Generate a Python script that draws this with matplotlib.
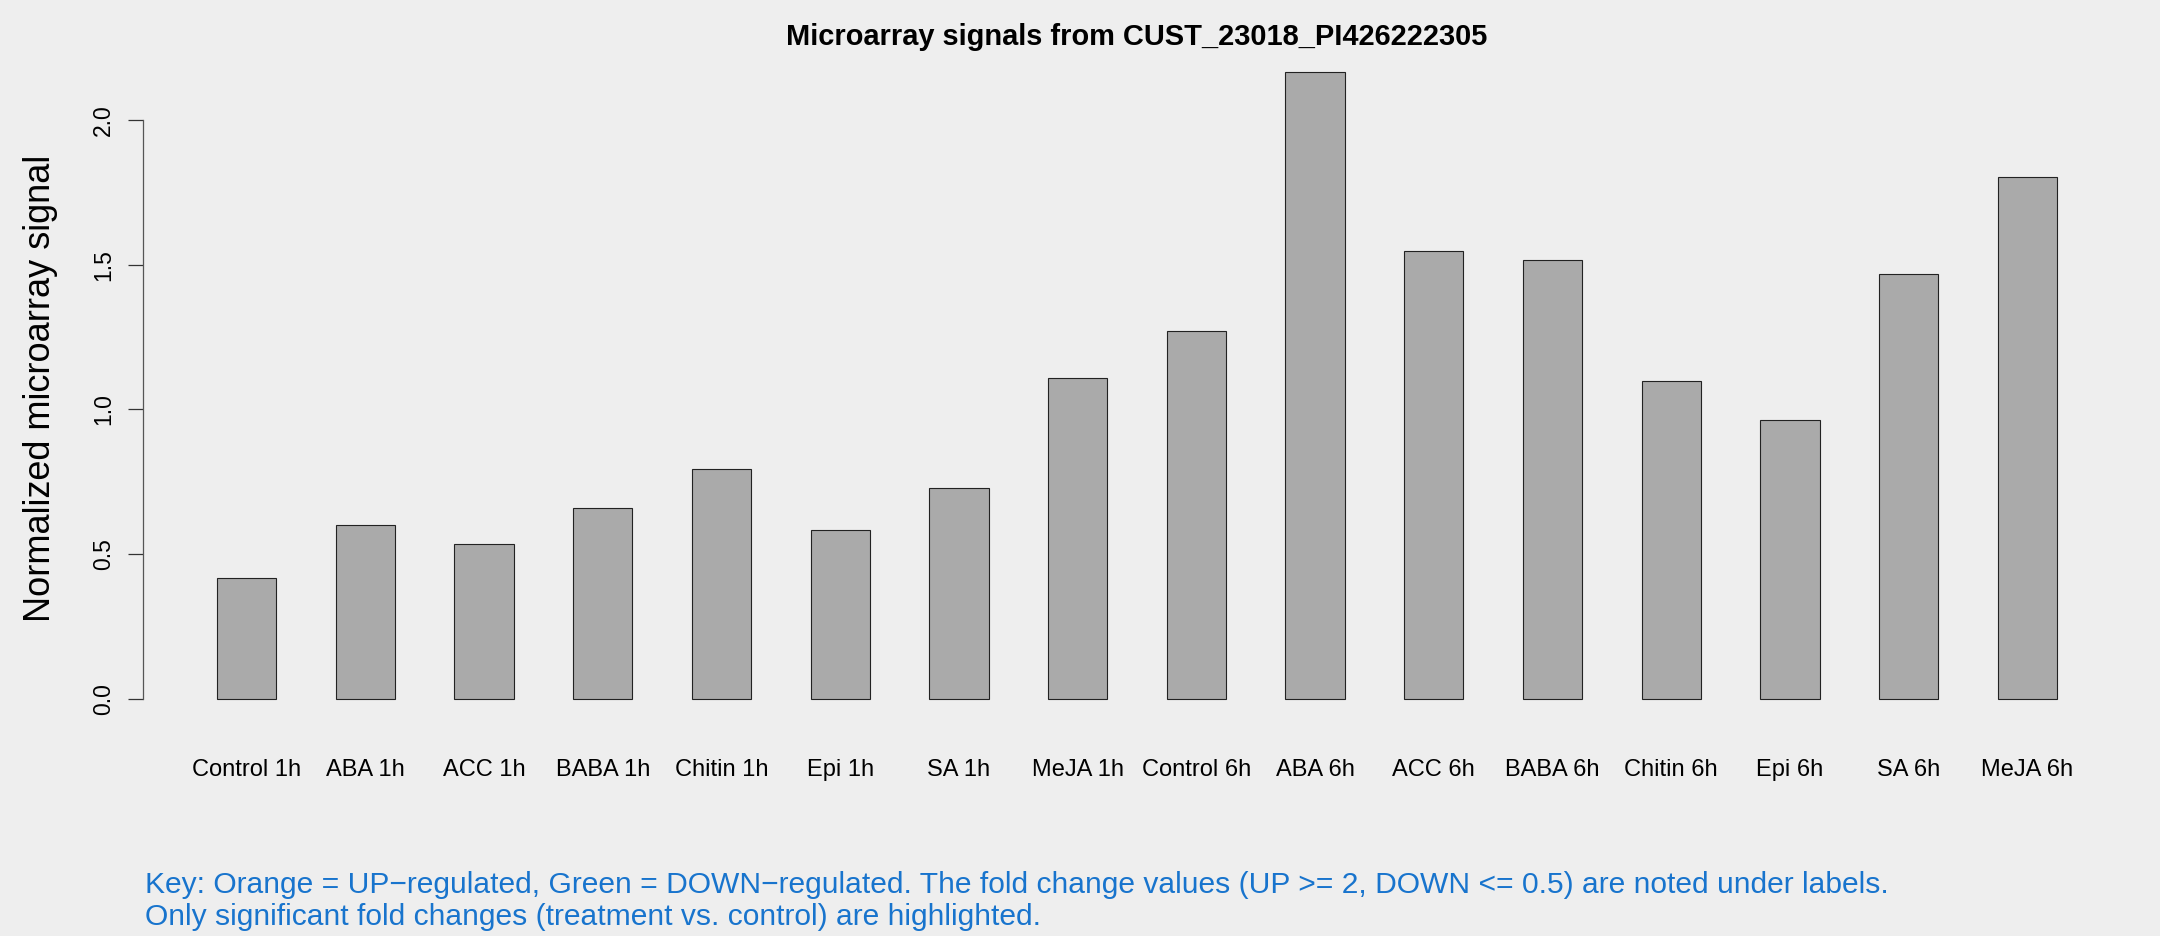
import matplotlib
matplotlib.use("Agg")
import matplotlib.pyplot as plt
import numpy as np

categories = ["Control 1h", "ABA 1h", "ACC 1h", "BABA 1h", "Chitin 1h", "Epi 1h",
              "SA 1h", "MeJA 1h", "Control 6h", "ABA 6h", "ACC 6h", "BABA 6h",
              "Chitin 6h", "Epi 6h", "SA 6h", "MeJA 6h"]
values = [0.419, 0.600, 0.534, 0.658, 0.796, 0.584, 0.730, 1.109,
          1.272, 2.167, 1.546, 1.518, 1.099, 0.965, 1.468, 1.802]
yticks = [0.0, 0.5, 1.0, 1.5, 2.0]
ytick_labels = ["0.0", "0.5", "1.0", "1.5", "2.0"]
title = "Microarray signals from CUST_23018_PI426222305"
ylabel = "Normalized microarray signal"
note1 = "Key: Orange = UP\u2212regulated, Green = DOWN\u2212regulated. The fold change values (UP >= 2, DOWN <= 0.5) are noted under labels."
note2 = "Only significant fold changes (treatment vs. control) are highlighted."

plt.rcParams['font.family'] = ['Liberation Sans', 'DejaVu Sans']

W, H = 2160, 936
fig = plt.figure(figsize=(W / 100, H / 100), dpi=100, facecolor='#EEEEEE')

# axes placement in pixels
left_px, right_px = 143.3, 2130.7
top_px, bottom_px = 46.5, 724.1
ax = fig.add_axes([left_px / W, 1 - bottom_px / H, (right_px - left_px) / W,
                   (bottom_px - top_px) / H])
ax.set_facecolor('#EEEEEE')

n = len(values)
x = 1.5 + 2 * np.arange(n)
ax.bar(x, values, width=1.0, color='#AAAAAA', edgecolor='#222222', linewidth=0.8)

ymax = max(values)
ax.set_xlim(1 - 0.04 * (2 * n - 1), 2 * n + 0.04 * (2 * n - 1))
ax.set_ylim(-0.04 * ymax, ymax * 1.04)

for s in ['top', 'right', 'bottom']:
    ax.spines[s].set_visible(False)
ax.spines['left'].set_bounds(0, 2.0)
ax.spines['left'].set_color('#555555')
ax.spines['left'].set_linewidth(0.9)

ax.set_yticks(yticks)
ax.set_yticklabels(ytick_labels, rotation=90, va='center', fontsize=16.5)
ax.tick_params(axis='y', length=10.8, width=0.9, color='#333333', pad=9.5)

ax.set_xticks(x)
ax.set_xticklabels(categories, fontsize=17)
ax.tick_params(axis='x', length=0, pad=25)

ax.set_ylabel(ylabel, fontsize=26, labelpad=0)
ax.yaxis.set_label_coords((58 - left_px) / (right_px - left_px), (bottom_px - 388) / (bottom_px - top_px))

fig.text((left_px + right_px) / 2 / W, 1 - 45 / H, title, ha='center', va='baseline',
         fontsize=20.9, fontweight='bold')

fig.text(145 / W, 1 - 893.3 / H, note1, ha='left', va='baseline', fontsize=21.6, color='#1874CD')
fig.text(145 / W, 1 - 925 / H, note2, ha='left', va='baseline', fontsize=21.6, color='#1874CD')

fig.savefig('out.png', dpi=100, facecolor=fig.get_facecolor())
